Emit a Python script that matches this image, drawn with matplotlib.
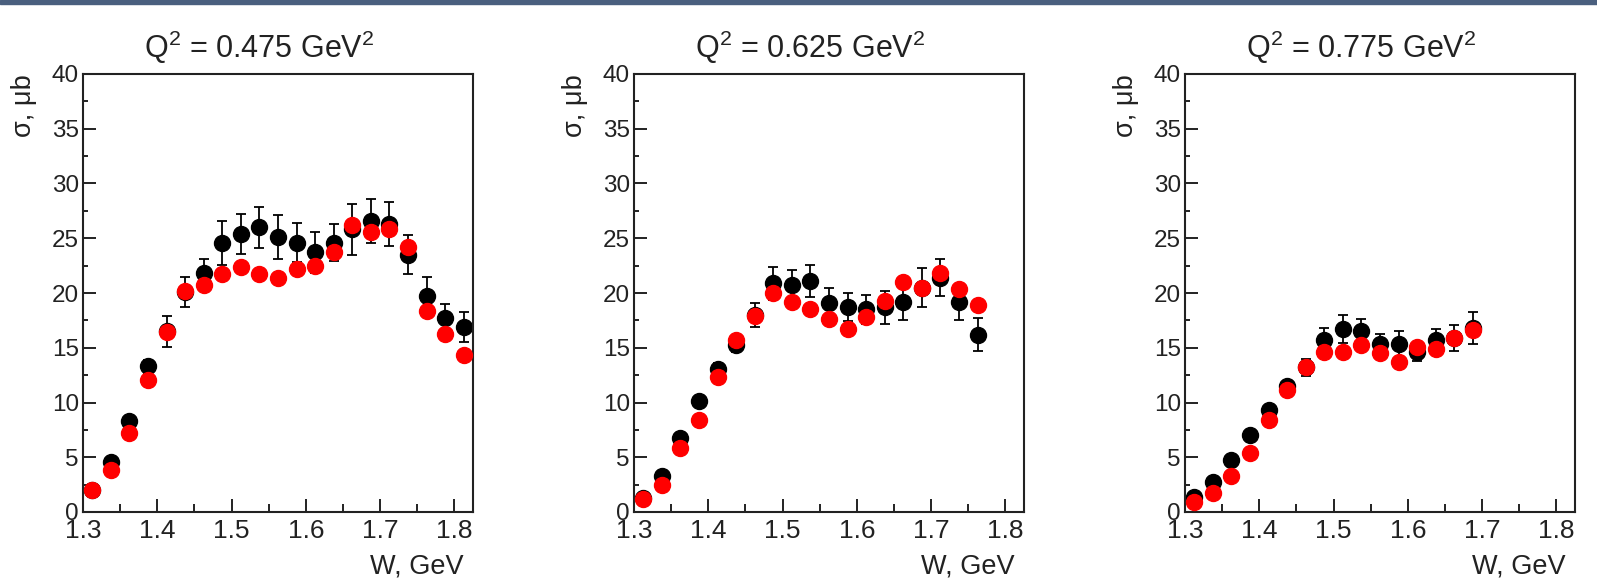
import numpy as np
import matplotlib.pyplot as plt
from matplotlib.patches import Rectangle
from matplotlib.ticker import MultipleLocator

plt.rcParams['font.family'] = ['Liberation Sans', 'DejaVu Sans']
plt.rcParams['mathtext.fontset'] = 'custom'
plt.rcParams['mathtext.rm'] = 'Liberation Sans'
plt.rcParams['mathtext.it'] = 'Liberation Sans:italic'

# Q^2 bins
titles = ["Q$^2$ = 0.475 GeV$^2$", "Q$^2$ = 0.625 GeV$^2$", "Q$^2$ = 0.775 GeV$^2$"]

# W bin centres, GeV
w_1 = [1.3125, 1.3375, 1.3625, 1.3875, 1.4125, 1.4375, 1.4625, 1.4875, 1.5125, 1.5375, 1.5625,
       1.5875, 1.6125, 1.6375, 1.6625, 1.6875, 1.7125, 1.7375, 1.7625, 1.7875, 1.8125]
w_2 = [1.3125, 1.3375, 1.3625, 1.3875, 1.4125, 1.4375, 1.4625, 1.4875, 1.5125, 1.5375,
       1.5625, 1.5875, 1.6125, 1.6375, 1.6625, 1.6875, 1.7125, 1.7375, 1.7625]
w_3 = [1.3125, 1.3375, 1.3625, 1.3875, 1.4125, 1.4375, 1.4625, 1.4875, 1.5125, 1.5375,
       1.5625, 1.5875, 1.6125, 1.6375, 1.6625, 1.6875]

# black points (with errors)
black_1 = [2.0, 4.6, 8.3, 13.3, 16.5, 20.1, 21.8, 24.6, 25.4, 26.0, 25.1,
           24.6, 23.7, 24.6, 25.8, 26.6, 26.3, 23.5, 19.7, 17.7, 16.9]
err_1 = [0.2, 0.3, 0.4, 0.6, 1.4, 1.4, 1.3, 2.0, 1.8, 1.85, 2.0,
         1.8, 1.9, 1.7, 2.3, 2.0, 2.0, 1.8, 1.8, 1.3, 1.4]
black_2 = [1.3, 3.3, 6.8, 10.1, 13.1, 15.25, 18.0, 20.9, 20.7, 21.1,
           19.05, 18.7, 18.5, 18.7, 19.15, 20.5, 21.4, 19.15, 16.2]
err_2 = [0.2, 0.3, 0.4, 0.4, 0.5, 0.6, 1.1, 1.5, 1.4, 1.5,
         1.45, 1.3, 1.3, 1.5, 1.6, 1.8, 1.7, 1.6, 1.5]
black_3 = [1.36, 2.7, 4.75, 7.0, 9.3, 11.5, 13.2, 15.7, 16.7, 16.5,
           15.3, 15.3, 14.6, 15.7, 15.9, 16.8]
err_3 = [0.2, 0.2, 0.3, 0.3, 0.4, 0.5, 0.8, 1.1, 1.3, 1.1,
         1.0, 1.2, 0.8, 1.0, 1.2, 1.5]

# red points
red_1 = [1.97, 3.83, 7.2, 12.1, 16.4, 20.2, 20.7, 21.7, 22.4, 21.7, 21.4,
         22.2, 22.5, 23.7, 26.2, 25.6, 25.8, 24.2, 18.4, 16.3, 14.3]
red_2 = [1.2, 2.5, 5.8, 8.4, 12.3, 15.7, 17.9, 20.0, 19.2, 18.5,
         17.6, 16.7, 17.8, 19.3, 21.0, 20.5, 21.8, 20.4, 18.9]
red_3 = [0.95, 1.76, 3.3, 5.36, 8.4, 11.1, 13.2, 14.6, 14.6, 15.25,
         14.5, 13.7, 15.1, 14.9, 15.9, 16.6]

panels = [(w_1, black_1, err_1, red_1), (w_2, black_2, err_2, red_2), (w_3, black_3, err_3, red_3)]

W, H = 1597, 582
fig = plt.figure(figsize=(W / 100, H / 100), dpi=100)
fig.patches.append(Rectangle((0, 1 - 4 / H), 1, 4 / H, transform=fig.transFigure,
                             color='#4a5f7e', zorder=0))

lefts = [83, 634, 1185]
ax_w, top, bottom = 390, 74, 512
ink = '#222222'

for i, (w, blk, err, red) in enumerate(panels):
    ax = fig.add_axes([lefts[i] / W, (H - bottom) / H, ax_w / W, (bottom - top) / H])
    ax.errorbar(w, blk, yerr=err, fmt='o', color='black', ms=11.5, elinewidth=1.3,
                capsize=3.8, capthick=1.3, zorder=2)
    ax.plot(w, red, 'o', color='#ff0000', ms=11.5, zorder=3)

    ax.set_xlim(1.3, 1.825)
    ax.set_ylim(0, 40)
    ax.xaxis.set_minor_locator(MultipleLocator(0.05))
    ax.yaxis.set_major_locator(MultipleLocator(5))
    ax.yaxis.set_minor_locator(MultipleLocator(2.5))
    ax.set_xticks(np.arange(1.3, 1.81, 0.1))
    ax.set_xticklabels(['1.3', '1.4', '1.5', '1.6', '1.7', '1.8'])

    ax.tick_params(axis='both', which='both', direction='in', color=ink, width=1.4,
                   top=False, right=False)
    ax.tick_params(axis='x', which='major', length=9.4, labelsize=19, pad=5, labelcolor=ink)
    ax.tick_params(axis='x', which='minor', length=5.5)
    ax.tick_params(axis='y', which='major', length=9, labelsize=17.5, pad=3, labelcolor=ink)
    ax.tick_params(axis='y', which='minor', length=3.8)
    for s in ax.spines.values():
        s.set_color(ink)
        s.set_linewidth(1.5)

    ax.text(0.451, 1 + 16 / (bottom - top), titles[i], transform=ax.transAxes,
            ha='center', va='baseline', fontsize=22, color=ink)
    ax.text(-0.118, 1.0, 'σ, μb', transform=ax.transAxes, rotation=90,
            ha='right', va='top', fontsize=19.5, color=ink)
    ax.text(0.975, -0.095, 'W, GeV', transform=ax.transAxes,
            ha='right', va='top', fontsize=19.5, color=ink)

fig.savefig('out.png', dpi=100)
